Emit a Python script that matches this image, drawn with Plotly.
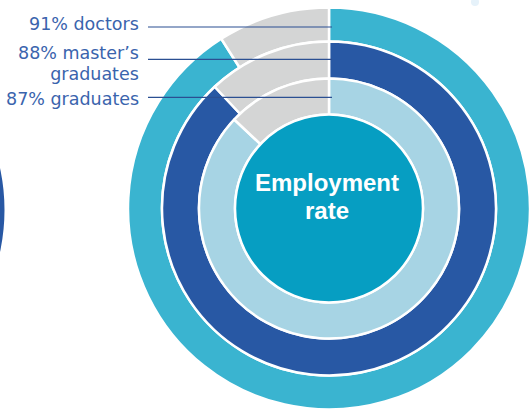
import plotly.graph_objects as go

# ---- data ----
groups = ["doctors", "master’s graduates", "graduates"]
employment_rate = [91, 88, 87]
label_lines = [["91% doctors"], ["88% master’s", "graduates"], ["87% graduates"]]
center_lines = ["Employment", "rate"]
ring_colors = ["#3ab4d0", "#2858a4", "#a7d4e4"]
rest_color = "#d4d5d5"
center_color = "#069ec2"
text_color = "#3a64ad"
leader_color = "#2b4f92"

W, H = 530, 411
CX, CY = 329, 208.5
radii = [201, 167, 130, 94]  # outer edge of each ring, last = centre disc


def domain(r):
    return dict(x=[(CX - r) / W, (CX + r) / W],
                y=[(H - CY - r) / H, (H - CY + r) / H])


fig = go.Figure()
for i, (g, v) in enumerate(zip(groups, employment_rate)):
    fig.add_trace(go.Pie(
        values=[v, 100 - v],
        labels=["employed", "not employed"],
        marker=dict(colors=[ring_colors[i], rest_color], line=dict(color="white", width=2.5)),
        hole=radii[i + 1] / radii[i],
        domain=domain(radii[i]),
        sort=False,
        direction="counterclockwise",
        rotation=0,
        textinfo="none",
        hoverinfo="skip",
        showlegend=False,
        name=g,
    ))

fig.add_trace(go.Pie(
    values=[1], labels=["Employment rate"],
    marker=dict(colors=[center_color], line=dict(color="white", width=2.5)),
    domain=domain(radii[3]), textinfo="none", hoverinfo="skip", showlegend=False,
))

annotations = []
shapes = []
LABEL_PX = 17.5
LABEL_LEAD = 20.5      # px between wrapped lines
label_y = [24, 63.5, 98.5]   # vertical centre of each label block
leader_y = [27, 59.3, 97.3]
for lines, y, ly in zip(label_lines, label_y, leader_y):
    txt = "<br>".join(f"<span style='font-size:{LABEL_PX}px'>{t}</span>" for t in lines)
    annotations.append(dict(
        text=txt, x=141 / W, y=1 - y / H, xref="paper", yref="paper",
        xanchor="right", yanchor="middle", align="right", showarrow=False,
        font=dict(family="DejaVu Sans", size=LABEL_LEAD / 1.3, color=text_color)))
    shapes.append(dict(type="line", xref="paper", yref="paper",
                       x0=148 / W, x1=332 / W, y0=1 - ly / H, y1=1 - ly / H,
                       line=dict(color=leader_color, width=1.2), layer="above"))

CENTER_PX = 24
CENTER_LEAD = 28
annotations.append(dict(
    text="<br>".join(f"<span style='font-size:{CENTER_PX}px'><b>{t}</b></span>" for t in center_lines),
    x=326.5 / W, y=1 - 196 / H, xref="paper", yref="paper",
    xanchor="center", yanchor="middle", align="center", showarrow=False,
    font=dict(family="Liberation Sans", size=CENTER_LEAD / 1.3, color="white")))

# decorative fragments at the edges of the crop
shapes.append(dict(type="circle", xref="paper", yref="paper",
                   x0=-392 / W, x1=4.5 / W, y0=1 - 408 / H, y1=1 - 12 / H,
                   fillcolor="#2858a4", line=dict(width=0), layer="below"))
shapes.append(dict(type="circle", xref="paper", yref="paper",
                   x0=471 / W, x1=479 / W, y0=1 - 6 / H, y1=1 + 2 / H,
                   fillcolor="#e6f2fa", line=dict(width=0), layer="below"))

fig.update_layout(
    width=W, height=H, margin=dict(l=0, r=0, t=0, b=0),
    paper_bgcolor="white", plot_bgcolor="white",
    annotations=annotations, shapes=shapes,
)
fig.write_html("out.html", config={"displayModeBar": False},
               post_script="document.body.style.margin='0';")
